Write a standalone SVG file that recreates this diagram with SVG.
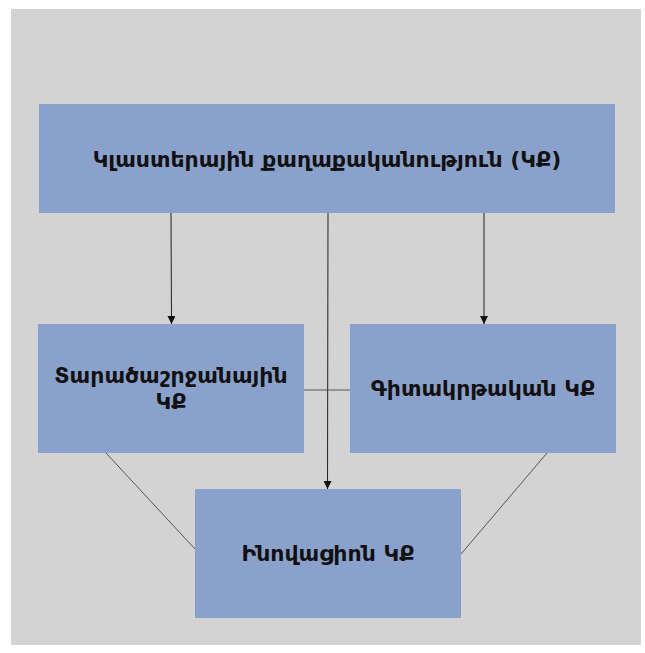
<svg xmlns="http://www.w3.org/2000/svg" width="645" height="653" viewBox="0 0 645 653">
<defs>
<marker id="ah" markerWidth="8" markerHeight="8" refX="8" refY="4" orient="auto" markerUnits="userSpaceOnUse" viewBox="0 0 8 8">
<path d="M0,0 L8,4 L0,8 Z" fill="#111"/>
</marker>
<style>
.box{fill:#8aa2cb;}
.t{font-family:"DejaVu Sans","Noto Sans",sans-serif;font-weight:bold;font-size:22px;fill:#111;text-anchor:middle;}
.arr{stroke:#222;stroke-width:1;fill:none;}
.ln{stroke:#555;stroke-width:1;fill:none;}
</style>
</defs>
<rect x="0" y="0" width="645" height="653" fill="#ffffff"/>
<rect x="11" y="9" width="630" height="636" fill="#d3d3d3"/>
<g id="connectors">
<line class="arr" x1="171" y1="213" x2="171.5" y2="324" marker-end="url(#ah)"/>
<line class="arr" x1="484" y1="213" x2="484" y2="324" marker-end="url(#ah)"/>
<line class="arr" x1="328" y1="213" x2="327.5" y2="489" marker-end="url(#ah)"/>
<line class="ln" x1="301" y1="390" x2="350" y2="390"/>
<line class="ln" x1="106" y1="453" x2="195" y2="549"/>
<line class="ln" x1="547" y1="453" x2="461" y2="554"/>
</g>
<g id="node-top">
<rect class="box" x="39" y="104" width="576" height="109"/>
<text class="t" x="327" y="167">Կլաստերային քաղաքականություն (ԿՔ)</text>
</g>
<g id="node-left">
<rect class="box" x="38" y="324" width="266" height="129"/>
<text class="t" x="171" y="383">Տարածաշրջանային</text>
<text class="t" x="171" y="409">ԿՔ</text>
</g>
<g id="node-right">
<rect class="box" x="350" y="324" width="266" height="129"/>
<text class="t" x="483" y="396">Գիտակրթական ԿՔ</text>
</g>
<g id="node-bottom">
<rect class="box" x="195" y="489" width="266" height="129"/>
<text class="t" x="328" y="561">Ինովացիոն ԿՔ</text>
</g>
</svg>
